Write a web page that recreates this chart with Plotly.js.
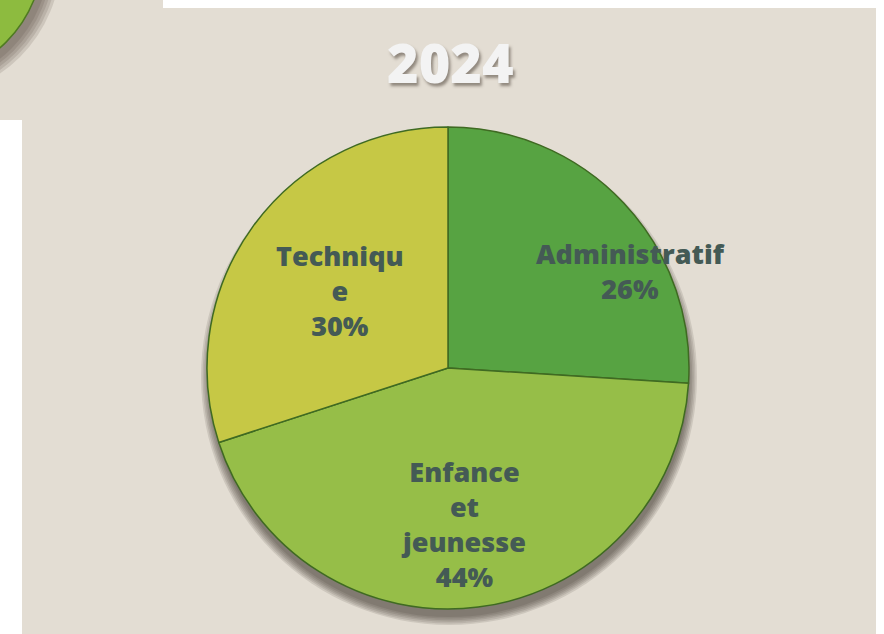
<!DOCTYPE html>
<html>
<head>
<meta charset="utf-8">
<script src="https://cdn.plot.ly/plotly-3.0.1.min.js"></script>
<style>
html,body{margin:0;padding:0;background:#fff;}
#chart{width:884px;height:634px;}
</style>
</head>
<body>
<div id="chart"></div>
<script>
// ---- data ----
const categories = ["Administratif", "Enfance et jeunesse", "Technique"];
const labelLines = ["Administratif", "Enfance<br>et<br>jeunesse", "Techniqu<br>e"];
const values = [26, 44, 30];
const chartTitle = "2024";

// ---- layout helpers ----
const W = 884, H = 634;
const px = x => x / W;
const py = y => 1 - y / H;
const colors = ["#57a342", "#96be48", "#c6c845"];
const cx = 448, cy = 368, R = 241;
const labelPos = [[630, 271], [463, 524], [340, 290]];
const textColor = "#445a55";
const font = "'Open Sans', Lato, sans-serif";

const total = values.reduce((a, b) => a + b, 0);
const pcts = values.map(v => Math.round(v / total * 100) + "%");

const shapes = [
  {type: "rect", xref: "paper", yref: "paper", x0: px(0), x1: px(163), y0: py(0), y1: py(120), fillcolor: "#e3ddd3", line: {width: 0}, layer: "below"},
  {type: "rect", xref: "paper", yref: "paper", x0: px(22), x1: px(876), y0: py(8), y1: py(634), fillcolor: "#e3ddd3", line: {width: 0}, layer: "below"}
];
const c2x = -83, c2y = -47, r2 = 126;
for (let i = 0; i < 5; i++) {
  const rr = r2 + 2 + i * 3;
  shapes.push({type: "circle", xref: "paper", yref: "paper", x0: px(c2x + 4 - rr), x1: px(c2x + 4 + rr), y0: py(c2y + 5 + rr), y1: py(c2y + 5 - rr), fillcolor: "rgba(60,50,40,0.13)", line: {width: 0}, layer: "below"});
}
shapes.push({type: "circle", xref: "paper", yref: "paper", x0: px(c2x - r2), x1: px(c2x + r2), y0: py(c2y + r2), y1: py(c2y - r2), fillcolor: "#8dbb3f", line: {width: 1.5, color: "#4f7a22"}, layer: "below"});
for (let i = 0; i < 6; i++) {
  const rr = R - 1 + i * 1.6;
  shapes.push({type: "circle", xref: "paper", yref: "paper", x0: px(cx + 1 - rr), x1: px(cx + 1 + rr), y0: py(cy + 9 + rr), y1: py(cy + 9 - rr), fillcolor: "rgba(50,45,35,0.12)", line: {width: 0}, layer: "below"});
}

const annotations = [];
annotations.push({text: chartTitle, xref: "paper", yref: "paper", x: px(450), y: py(62), xanchor: "center", yanchor: "middle", showarrow: false, font: {family: font, size: 54, weight: 800, color: "#f3f3f3", shadow: "2px 3px 3px rgba(90,80,70,0.6)"}});
categories.forEach((c, i) => {
  annotations.push({text: labelLines[i] + "<br>" + pcts[i], xref: "paper", yref: "paper", x: px(labelPos[i][0]), y: py(labelPos[i][1]), xanchor: "center", yanchor: "middle", align: "center", showarrow: false, font: {family: font, size: 27, weight: 800, color: textColor, shadow: "none"}});
});

const trace = {
  type: "pie",
  labels: categories,
  values: values,
  sort: false,
  direction: "clockwise",
  rotation: 0,
  textinfo: "none",
  hoverinfo: "label+percent",
  marker: {colors: colors, line: {color: "#3f6a22", width: 1.5}},
  domain: {x: [px(cx - R), px(cx + R)], y: [py(cy + R), py(cy - R)]},
  showlegend: false
};

const layout = {
  width: W, height: H,
  margin: {l: 0, r: 0, t: 0, b: 0},
  paper_bgcolor: "#ffffff",
  plot_bgcolor: "rgba(0,0,0,0)",
  showlegend: false,
  shapes: shapes,
  annotations: annotations
};

Plotly.newPlot("chart", [trace], layout, {displayModeBar: false, staticPlot: true});
</script>
</body>
</html>
